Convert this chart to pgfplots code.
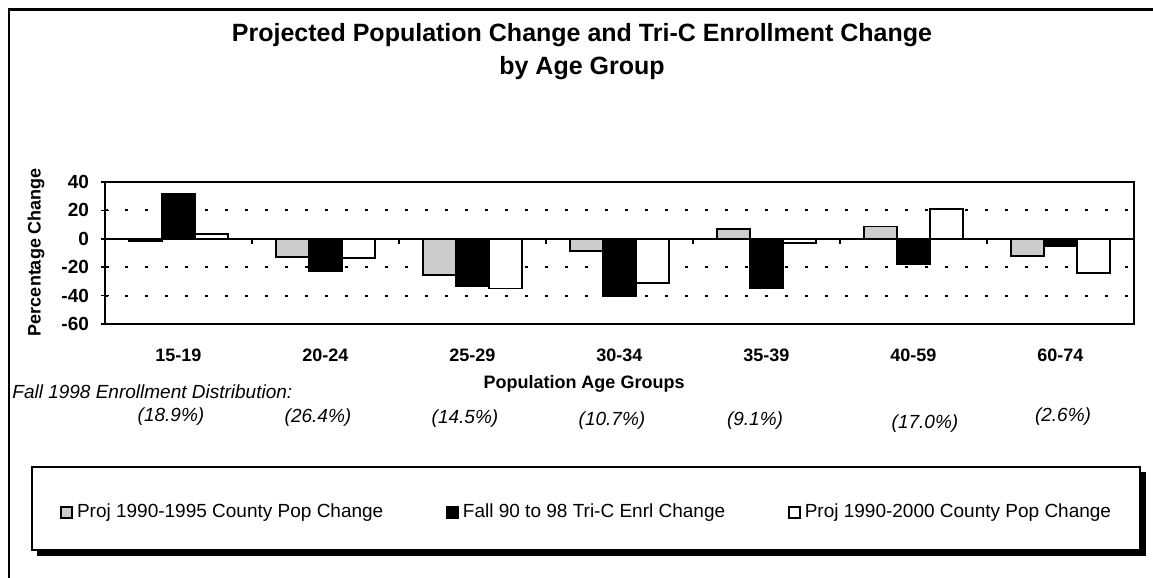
\documentclass[border=0pt]{standalone}
\usepackage{pgfplots}
\pgfplotsset{compat=1.18}
\usepackage{fontspec}
\setmainfont{Liberation Sans}
\begin{document}
\begin{tikzpicture}[x=0.5pt,y=-0.5pt]
\path[use as bounding box] (0,0) rectangle (1153,578);
\draw[line width=1.2pt] (9,578) -- (9,9.5) -- (1153,9.5);
\node[font=\bfseries\fontsize{12.5}{14}\selectfont] at (582,35) {Projected Population Change and Tri-C Enrollment Change};
\node[font=\bfseries\fontsize{12.5}{14}\selectfont] at (582,68) {by Age Group};
\node[font=\bfseries\fontsize{9}{10}\selectfont, rotate=90] at (36,252) {Percentage Change};
\node[font=\bfseries\fontsize{9}{10}\selectfont] at (584,384) {Population Age Groups};
\node[font=\itshape\fontsize{9.5}{11}\selectfont, anchor=west, inner sep=0pt] at (12,392) {Fall 1998 Enrollment Distribution:};
\begin{scope}[font=\itshape\fontsize{9.5}{11}\selectfont]
\node at (171,417) {(18.9\%)};
\node at (318,418) {(26.4\%)};
\node at (465,419) {(14.5\%)};
\node at (612,421) {(10.7\%)};
\node at (755,421) {(9.1\%)};
\node at (925,424) {(17.0\%)};
\node at (1063,417) {(2.6\%)};
\end{scope}
% legend frame with shadow
\fill[black] (37,472) rectangle (1146,556);
\draw[line width=0.8pt, fill=white] (32,467) rectangle (1140,550);
\coordinate (A) at (105,324);
\begin{axis}[
  at={(A)}, anchor=south west,
  scale only axis, width=514.5pt, height=71pt,
  xmin=-0.5, xmax=6.5, ymin=-60, ymax=40,
  axis line style={line width=1pt},
  ytick={-60,-40,-20,0,20,40},
  yticklabels={-60,-40,-20,0,20,40},
  y tick label style={font=\bfseries\fontsize{9.5}{10}\selectfont, xshift=-2.5pt},
  xtick={0,1,2,3,4,5,6},
  xticklabels={15-19,20-24,25-29,30-34,35-39,40-59,60-74},
  x tick label style={font=\bfseries\fontsize{9}{10}\selectfont, yshift=-5pt},
  xtick style={draw=none},
  ytick pos=left, tick align=center,
  major tick length=4pt,
  ytick style={line width=0.8pt, black},
  ymajorgrids,
  grid style={black, line width=1pt, dash pattern=on 1.5pt off 8.5pt},
  ybar=0pt, bar width=16.5pt,
  legend columns=3,
  legend style={at={(-0.0437,-1.327)}, anchor=west, draw=none, fill=none, inner sep=0pt,
    font=\fontsize{9.5}{11}\selectfont,
    /tikz/every even column/.append style={column sep=29.5pt}},
  legend image code/.code={\draw[#1, line width=0.9pt] (0pt,-2.7pt) rectangle (5.4pt,2.7pt);},
]
\addplot[draw=black, line width=0.9pt, fill=gray!40] coordinates {(0,-1.5) (1,-13) (2,-25.5) (3,-8.5) (4,6.8) (5,8.7) (6,-12)};
\addplot[draw=black, line width=0.9pt, fill=black] coordinates {(0,31.5) (1,-23) (2,-33.5) (3,-40.5) (4,-35) (5,-17.5) (6,-5.4)};
\addplot[draw=black, line width=0.9pt, fill=white] coordinates {(0,3.5) (1,-13.5) (2,-35) (3,-31) (4,-3) (5,21) (6,-24)};
\draw[black, line width=1pt] (axis cs:-0.5,0) -- (axis cs:6.5,0);
\pgfplotsinvokeforeach{0.5,1.5,2.5,3.5,4.5,5.5}{\draw[black, line width=0.8pt] (axis cs:#1,0) -- (axis cs:#1,-4);}
\legend{Proj 1990-1995 County Pop Change, Fall 90 to 98 Tri-C Enrl Change, Proj 1990-2000 County Pop Change}
\end{axis}
\end{tikzpicture}
\end{document}
